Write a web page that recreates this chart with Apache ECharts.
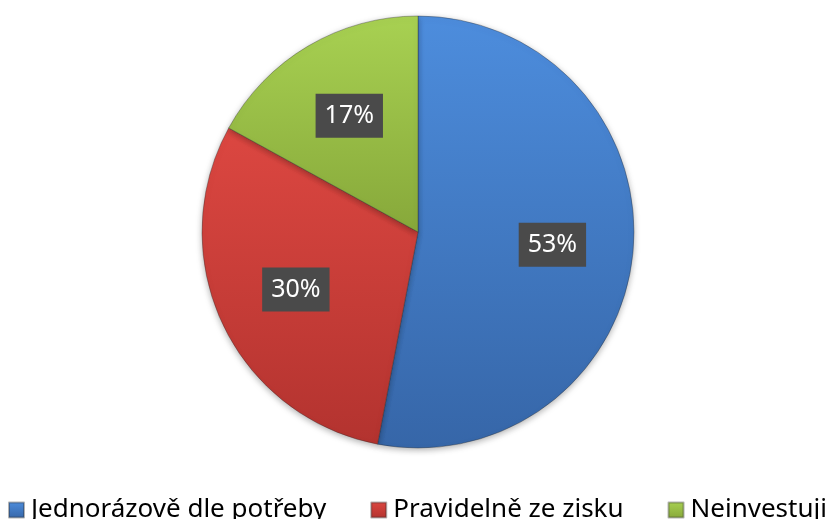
<!doctype html>
<html lang="cs">
<head>
  <meta charset="utf-8">
  <title>Investování</title>
  <script src="https://cdn.jsdelivr.net/npm/echarts@6/dist/echarts.min.js"></script>
  <style>
    html, body { margin: 0; padding: 0; background: #fff; }
    #chartmain { width: 829px; height: 519px; }
  </style>
</head>
<body>
<div id="chartmain"></div>
<script>
  var categories = ['Jednorázově dle potřeby', 'Pravidelně ze zisku', 'Neinvestuji'];
  var shares = [53, 30, 17];
  var sliceTop = ['#4d8ddd', '#dc4741', '#a8d152'];
  var sliceBottom = ['#3666a8', '#b3332f', '#87a83a'];

  function grad(i) {
    return new echarts.graphic.LinearGradient(0, 0, 0, 1, [
      { offset: 0, color: sliceTop[i] },
      { offset: 1, color: sliceBottom[i] }
    ]);
  }

  var pieData = categories.map(function (name, i) {
    return { name: name, value: shares[i], itemStyle: { color: grad(i) } };
  });

  var myChart = echarts.init(document.getElementById('chartmain'));
  var option = {
    backgroundColor: '#fff',
    animation: false,
    legend: {
      data: categories,
      left: 8,
      right: 0,
      top: 495,
      padding: 0,
      itemWidth: 15,
      itemHeight: 15,
      itemGap: 44,
      icon: 'rect',
      textStyle: { fontFamily: 'Noto Sans', fontSize: 26, lineHeight: 30, color: '#000', padding: [0, 0, 0, 2] }
    },
    series: [
      {
        type: 'pie',
        center: [418, 232],
        radius: 216,
        startAngle: 90,
        clockwise: true,
        data: pieData,
        label: { show: false },
        labelLine: { show: false },
        itemStyle: {
          borderColor: 'rgba(40,40,40,0.35)',
          borderWidth: 1,
          shadowBlur: 6,
          shadowColor: 'rgba(0,0,0,0.3)',
          shadowOffsetY: 2
        },
        emphasis: { disabled: true }
      },
      {
        // transparent copy only to place the labels a bit further out
        type: 'pie',
        center: [418, 232],
        radius: [0, 264],
        startAngle: 90,
        clockwise: true,
        silent: true,
        data: categories.map(function (name, i) { return { name: name, value: shares[i] }; }),
        itemStyle: { color: 'rgba(0,0,0,0)' },
        label: {
          show: true,
          position: 'inside',
          formatter: '{c}%',
          color: '#fff',
          fontFamily: 'Noto Sans',
          fontSize: 25,
          lineHeight: 26,
          backgroundColor: '#4a4a4a',
          padding: [9, 9]
        },
        labelLine: { show: false },
        emphasis: { disabled: true }
      }
    ]
  };
  myChart.setOption(option);
</script>
</body>
</html>
